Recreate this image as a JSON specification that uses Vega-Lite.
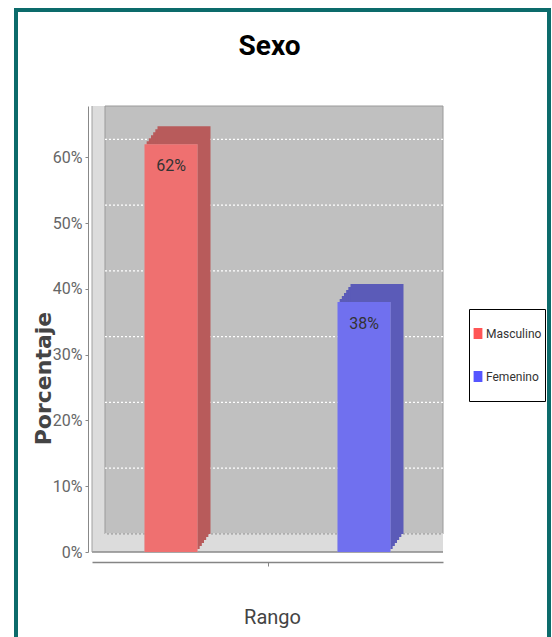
{
  "$schema": "https://vega.github.io/schema/vega-lite/v6.json",
  "width": 533,
  "height": 630,
  "autosize": {"type": "none"},
  "padding": {"left": 16, "top": 10, "right": 3, "bottom": -3},
  "background": "#ffffff",
  "config": {
    "view": {"stroke": "#0c6b6b", "strokeWidth": 4, "fill": "#ffffff"},
    "font": "Roboto"
  },
  "title": {
    "text": "Sexo",
    "frame": "group",
    "anchor": "middle",
    "offset": -73,
    "dx": -13,
    "baseline": "alphabetic",
    "font": "Roboto",
    "fontSize": 28,
    "fontWeight": "bold",
    "color": "#000000"
  },
  "resolve": {"scale": {"x": "independent"}},
  "datasets": {
    "plot": [{"box": "plot"}],
    "grid": [{"g": 0}, {"g": 0.1}, {"g": 0.2}, {"g": 0.3}, {"g": 0.4}, {"g": 0.5}, {"g": 0.6}],
    "sexo": [{"sexo": "Masculino", "pct": 0.62}, {"sexo": "Femenino", "pct": 0.38}]
  },
  "layer": [
    {
      "data": {"name": "plot"},
      "mark": {"type": "rect", "color": "#dcdcdc"},
      "encoding": {
        "x": {"datum": 0, "type": "quantitative", "scale": {"domain": [0, 1], "range": [76, 427], "nice": false, "zero": false},
          "axis": {"title": "Rango", "values": [0.5], "labels": false, "grid": false, "offset": -78, "domainColor": "#858585", "domainWidth": 1.5, "tickColor": "#858585", "tickSize": 4, "titleX": 256, "titleY": 61, "titleBaseline": "alphabetic", "titleFont": "Roboto", "titleFontSize": 20, "titleFontWeight": "normal", "titleColor": "#444444"}},
        "x2": {"datum": 1},
        "y": {"datum": 0, "type": "quantitative", "scale": {"domain": [0, 0.678], "range": [542, 96], "nice": false},
          "axis": {"title": "Porcentaje", "values": [0, 0.1, 0.2, 0.3, 0.4, 0.5, 0.6], "format": ".0%", "grid": false, "offset": -72, "domainColor": "#888888", "tickColor": "#888888", "tickSize": 3, "labelFont": "Roboto", "labelFontSize": 16, "labelColor": "#666666", "labelPadding": 3, "titleFont": "DejaVu Sans", "titleFontWeight": "bold", "titleFontSize": 22, "titleColor": "#444444", "titleX": -38, "titleY": 368, "titleBaseline": "alphabetic"}},
        "y2": {"datum": 0.678}
      }
    },
    {
      "data": {"name": "plot"},
      "mark": {"type": "rect", "color": "#dcdcdc", "xOffset": 2.17, "yOffset": -3},
      "encoding": {
        "x": {"datum": 0, "type": "quantitative", "scale": {"domain": [0, 1], "range": [76, 427], "nice": false, "zero": false}, "axis": null},
        "x2": {"datum": 1}, "y": {"datum": 0, "type": "quantitative"}, "y2": {"datum": 0.678}
      }
    },
    {
      "data": {"name": "plot"},
      "mark": {"type": "rect", "color": "#dcdcdc", "xOffset": 4.33, "yOffset": -6},
      "encoding": {
        "x": {"datum": 0, "type": "quantitative", "scale": {"domain": [0, 1], "range": [76, 427], "nice": false, "zero": false}, "axis": null},
        "x2": {"datum": 1}, "y": {"datum": 0, "type": "quantitative"}, "y2": {"datum": 0.678}
      }
    },
    {
      "data": {"name": "plot"},
      "mark": {"type": "rect", "color": "#dcdcdc", "xOffset": 6.5, "yOffset": -9},
      "encoding": {
        "x": {"datum": 0, "type": "quantitative", "scale": {"domain": [0, 1], "range": [76, 427], "nice": false, "zero": false}, "axis": null},
        "x2": {"datum": 1}, "y": {"datum": 0, "type": "quantitative"}, "y2": {"datum": 0.678}
      }
    },
    {
      "data": {"name": "plot"},
      "mark": {"type": "rect", "color": "#dcdcdc", "xOffset": 8.67, "yOffset": -12},
      "encoding": {
        "x": {"datum": 0, "type": "quantitative", "scale": {"domain": [0, 1], "range": [76, 427], "nice": false, "zero": false}, "axis": null},
        "x2": {"datum": 1}, "y": {"datum": 0, "type": "quantitative"}, "y2": {"datum": 0.678}
      }
    },
    {
      "data": {"name": "plot"},
      "mark": {"type": "rect", "color": "#dcdcdc", "xOffset": 10.83, "yOffset": -15},
      "encoding": {
        "x": {"datum": 0, "type": "quantitative", "scale": {"domain": [0, 1], "range": [76, 427], "nice": false, "zero": false}, "axis": null},
        "x2": {"datum": 1}, "y": {"datum": 0, "type": "quantitative"}, "y2": {"datum": 0.678}
      }
    },
    {
      "data": {"name": "plot"},
      "mark": {"type": "rect", "fill": "#c0c0c0", "stroke": "#9a9a9a", "strokeWidth": 1, "xOffset": 13, "yOffset": -18},
      "encoding": {
        "x": {"datum": 0, "type": "quantitative", "scale": {"domain": [0, 1], "range": [76, 427], "nice": false, "zero": false}, "axis": null},
        "x2": {"datum": 1}, "y": {"datum": 0, "type": "quantitative"}, "y2": {"datum": 0.678}
      }
    },
    {
      "data": {"name": "grid"},
      "mark": {"type": "rule", "color": "#ffffff", "strokeDash": [2, 2], "strokeWidth": 1.2, "xOffset": 13, "yOffset": -18},
      "encoding": {
        "x": {"datum": 0, "type": "quantitative", "scale": {"domain": [0, 1], "range": [76, 427], "nice": false, "zero": false}, "axis": null},
        "x2": {"datum": 1},
        "y": {"field": "g", "type": "quantitative"}
      }
    },
    {
      "data": {"name": "plot"},
      "mark": {"type": "rule", "color": "#8a8a8a", "strokeWidth": 1.5},
      "encoding": {
        "x": {"datum": 0, "type": "quantitative", "scale": {"domain": [0, 1], "range": [76, 427], "nice": false, "zero": false}, "axis": null},
        "x2": {"datum": 1},
        "y": {"datum": 0, "type": "quantitative"}
      }
    },
    {
      "data": {"name": "plot"},
      "mark": {"type": "rule", "color": "#a0a0a0", "strokeWidth": 1},
      "encoding": {
        "x": {"datum": 0, "type": "quantitative", "scale": {"domain": [0, 1], "range": [76, 427], "nice": false, "zero": false}, "axis": null},
        "y": {"datum": 0, "type": "quantitative"},
        "y2": {"datum": 0.678}
      }
    },
    {
      "data": {"name": "sexo"},
      "mark": {"type": "bar", "xOffset": 2.17, "yOffset": -3},
      "encoding": {
        "x": {"field": "sexo", "type": "nominal", "sort": null, "scale": {"type": "band", "domain": ["Masculino", "Femenino"], "range": [76, 427], "paddingInner": 0.7254, "paddingOuter": 0.272}, "axis": null},
        "y": {"field": "pct", "type": "quantitative"},
        "fill": {"field": "sexo", "type": "nominal", "scale": {"domain": ["Femenino", "Masculino"], "range": ["#5b5bb8", "#b85b5b"]}, "legend": null}
      }
    },
    {
      "data": {"name": "sexo"},
      "mark": {"type": "bar", "xOffset": 4.33, "yOffset": -6},
      "encoding": {
        "x": {"field": "sexo", "type": "nominal", "sort": null, "scale": {"type": "band", "domain": ["Masculino", "Femenino"], "range": [76, 427], "paddingInner": 0.7254, "paddingOuter": 0.272}, "axis": null},
        "y": {"field": "pct", "type": "quantitative"},
        "fill": {"field": "sexo", "type": "nominal", "legend": null}
      }
    },
    {
      "data": {"name": "sexo"},
      "mark": {"type": "bar", "xOffset": 6.5, "yOffset": -9},
      "encoding": {
        "x": {"field": "sexo", "type": "nominal", "sort": null, "scale": {"type": "band", "domain": ["Masculino", "Femenino"], "range": [76, 427], "paddingInner": 0.7254, "paddingOuter": 0.272}, "axis": null},
        "y": {"field": "pct", "type": "quantitative"},
        "fill": {"field": "sexo", "type": "nominal", "legend": null}
      }
    },
    {
      "data": {"name": "sexo"},
      "mark": {"type": "bar", "xOffset": 8.67, "yOffset": -12},
      "encoding": {
        "x": {"field": "sexo", "type": "nominal", "sort": null, "scale": {"type": "band", "domain": ["Masculino", "Femenino"], "range": [76, 427], "paddingInner": 0.7254, "paddingOuter": 0.272}, "axis": null},
        "y": {"field": "pct", "type": "quantitative"},
        "fill": {"field": "sexo", "type": "nominal", "legend": null}
      }
    },
    {
      "data": {"name": "sexo"},
      "mark": {"type": "bar", "xOffset": 10.83, "yOffset": -15},
      "encoding": {
        "x": {"field": "sexo", "type": "nominal", "sort": null, "scale": {"type": "band", "domain": ["Masculino", "Femenino"], "range": [76, 427], "paddingInner": 0.7254, "paddingOuter": 0.272}, "axis": null},
        "y": {"field": "pct", "type": "quantitative"},
        "fill": {"field": "sexo", "type": "nominal", "legend": null}
      }
    },
    {
      "data": {"name": "sexo"},
      "mark": {"type": "bar", "xOffset": 13, "yOffset": -18},
      "encoding": {
        "x": {"field": "sexo", "type": "nominal", "sort": null, "scale": {"type": "band", "domain": ["Masculino", "Femenino"], "range": [76, 427], "paddingInner": 0.7254, "paddingOuter": 0.272}, "axis": null},
        "y": {"field": "pct", "type": "quantitative"},
        "fill": {"field": "sexo", "type": "nominal", "legend": null}
      }
    },
    {
      "data": {"name": "sexo"},
      "mark": {"type": "bar", "color": "#c0c0c0"},
      "encoding": {
        "x": {"field": "sexo", "type": "nominal", "sort": null, "scale": {"type": "band", "domain": ["Masculino", "Femenino"], "range": [76, 427], "paddingInner": 0.7254, "paddingOuter": 0.272}, "axis": null},
        "y": {"field": "pct", "type": "quantitative"}
      }
    },
    {
      "data": {"name": "sexo"},
      "mark": {"type": "bar", "opacity": 0.75},
      "encoding": {
        "x": {"field": "sexo", "type": "nominal", "sort": null, "scale": {"type": "band", "domain": ["Masculino", "Femenino"], "range": [76, 427], "paddingInner": 0.7254, "paddingOuter": 0.272}, "axis": null},
        "y": {"field": "pct", "type": "quantitative"},
        "color": {
          "field": "sexo",
          "type": "nominal",
          "scale": {"domain": ["Masculino", "Femenino"], "range": ["#ff5555", "#5555ff"]},
          "legend": {
            "orient": "none",
            "legendX": 453,
            "legendY": 299,
            "title": null,
            "padding": 3,
            "strokeColor": "#000000",
            "fillColor": "#ffffff",
            "rowPadding": 0,
            "clipHeight": 43,
            "labelFont": "Roboto",
            "labelFontSize": 12,
            "labelColor": "#333333",
            "labelOffset": 2,
            "symbolType": "M-0.8,-1H0.8V1H-0.8Z",
            "symbolSize": 121,
            "symbolOpacity": 1,
            "symbolStrokeWidth": 0
          }
        }
      }
    },
    {
      "data": {"name": "sexo"},
      "mark": {"type": "text", "baseline": "top", "dy": 14, "font": "Roboto", "fontSize": 16, "color": "#333333"},
      "encoding": {
        "x": {"field": "sexo", "type": "nominal", "sort": null, "scale": {"type": "band", "domain": ["Masculino", "Femenino"], "range": [76, 427], "paddingInner": 0.7254, "paddingOuter": 0.272}, "axis": null},
        "y": {"field": "pct", "type": "quantitative"},
        "text": {"field": "pct", "type": "quantitative", "format": ".0%"}
      }
    }
  ]
}
